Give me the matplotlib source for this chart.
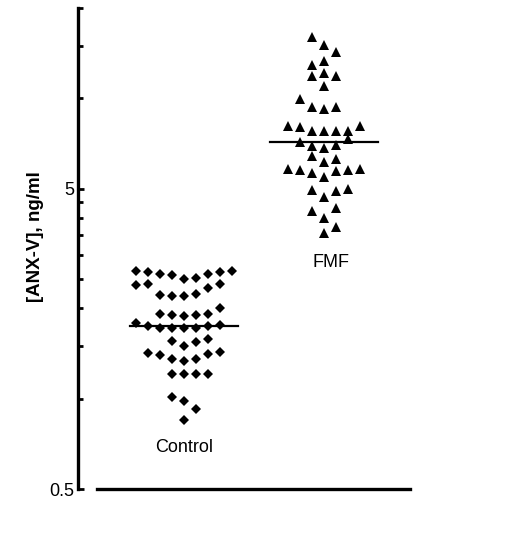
import matplotlib.pyplot as plt
import numpy as np

plt.rcParams['font.family'] = ['Liberation Sans', 'DejaVu Sans']

# values (ng/ml)
control_vals = [2.67, 2.64, 2.60, 2.58, 2.51, 2.53, 2.60, 2.64, 2.67,
                2.39, 2.40, 2.22, 2.19, 2.19, 2.23, 2.33, 2.40,
                1.91, 1.90, 1.88, 1.90, 1.91, 2.01,
                1.78, 1.75, 1.72, 1.72, 1.72, 1.72, 1.74, 1.76,
                1.55, 1.50, 1.54, 1.58,
                1.42, 1.40, 1.35, 1.33, 1.36, 1.41, 1.43,
                1.21, 1.21, 1.21, 1.21,
                1.01, 0.98, 0.92, 0.85]
# column slot of each dot inside the group (dot-plot arrangement)
control_slot = [-4, -3, -2, -1, 0, 1, 2, 3, 4,
                -4, -3, -2, -1, 0, 1, 2, 3,
                -2, -1, 0, 1, 2, 3,
                -4, -3, -2, -1, 0, 1, 2, 3,
                -1, 0, 1, 2,
                -3, -2, -1, 0, 1, 2, 3,
                -1, 0, 1, 2,
                -1, 0, 1, 0]

fmf_vals = [16.0, 15.1, 14.3,
            12.95, 13.3,
            11.84, 12.15, 11.9,
            10.96,
            9.95,
            9.36, 9.22, 9.36,
            8.11, 8.01, 7.80, 7.80, 7.80, 7.80, 8.11,
            7.32,
            7.13, 6.92, 6.84, 7.01,
            6.44,
            6.16, 6.28,
            5.82, 5.78, 5.64, 5.47, 5.71, 5.78, 5.82,
            4.96, 4.71, 4.90, 5.00,
            4.20, 3.99, 4.31,
            3.56, 3.72]
fmf_slot = [-1, 0, 1,
            -1, 0,
            -1, 0, 1,
            0,
            -2,
            -1, 0, 1,
            -3, -2, -1, 0, 1, 2, 3,
            2,
            -2, -1, 0, 1,
            -1,
            0, 1,
            -3, -2, -1, 0, 1, 2, 3,
            -1, 0, 1, 2,
            -1, 0, 1,
            0, 1]

groups = ['Control', 'FMF']
medians = [1.75, 7.13]
yticks_major = [0.5, 5]
yticks_minor = [1, 1.5, 2, 2.5, 3, 3.5, 4, 4.5, 10, 15, 20]

fig = plt.figure(figsize=(5.06, 5.47), dpi=100)
ax = fig.add_axes([78/506, 58/547, (430-78)/506, (489-8)/547])

step = 12/140
ax.plot(1 + np.array(control_slot)*step, control_vals, 'D', color='black', ms=5, mew=0)
ax.plot(2 + np.array(fmf_slot)*step, fmf_vals, '^', color='black', ms=6.5, mew=0)

for i, m in enumerate(medians):
    ax.plot([i + 1 - 0.386, i + 1 + 0.386], [m, m], color='black', lw=1.6)

ax.text(1, 0.69, groups[0], ha='center', va='center', fontsize=13)
ax.text(2.05, 2.83, groups[1], ha='center', va='center', fontsize=13)

ax.set_yscale('log')
ax.set_ylim(0.5, 20)
ax.set_xlim(1 - 106/140, 2 + 106/140)
ax.set_yticks(yticks_major)
ax.set_yticklabels(['0.5', '5'])
ax.set_yticks(yticks_minor, minor=True)
ax.yaxis.set_minor_formatter(plt.NullFormatter())
ax.tick_params(axis='y', which='major', direction='in', length=4, width=2, labelsize=13, pad=3)
ax.tick_params(axis='y', which='minor', direction='in', length=3.5, width=2)
ax.set_xticks([])

for s in ['top', 'right']:
    ax.spines[s].set_visible(False)
ax.spines['left'].set_linewidth(2.4)
ax.spines['bottom'].set_linewidth(2.4)
ax.spines['bottom'].set_bounds(1 - 87/140, 2 + 86/140)

fig.text(35/506, 1 - 237/547, '[ANX-V], ng/ml', rotation=90, ha='center', va='center',
         fontsize=13.5, fontweight='bold')

fig.savefig('out.png', dpi=100)
